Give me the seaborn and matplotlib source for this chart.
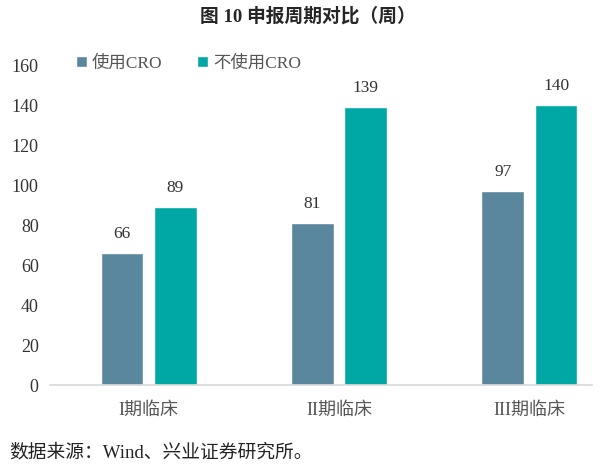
"""Bar chart: submission cycle with / without CRO (weeks)."""

import matplotlib

matplotlib.use("Agg")
import matplotlib.pyplot as plt
import pandas as pd
import seaborn as sns

PHASES = ["I期临床", "II期临床", "III期临床"]
SERIES = ["使用CRO", "不使用CRO"]
WITH_CRO = [66, 81, 97]
WITHOUT_CRO = [89, 139, 140]
Y_TICKS = [0, 20, 40, 60, 80, 100, 120, 140, 160]

TITLE = "图 10 申报周期对比（周）"
SOURCE = "数据来源：Wind、兴业证券研究所。"

PALETTE = {"使用CRO": "#5B879E", "不使用CRO": "#00A8A5"}

sns.set_theme(style="white")
plt.rcParams["font.family"] = ["Liberation Serif", "Noto Sans CJK SC", "DejaVu Sans"]
plt.rcParams["axes.unicode_minus"] = False

df = pd.DataFrame(
    {
        "phase": PHASES * 2,
        "series": [SERIES[0]] * 3 + [SERIES[1]] * 3,
        "weeks": WITH_CRO + WITHOUT_CRO,
    }
)

fig = plt.figure(figsize=(6.15, 4.68), dpi=100)
ax = fig.add_axes([0.081, 0.177, 0.882, 0.684])

sns.barplot(
    data=df,
    x="phase",
    y="weeks",
    hue="series",
    hue_order=SERIES,
    order=PHASES,
    palette=PALETTE,
    width=0.56,
    gap=0.2,
    errorbar=None,
    saturation=1,
    ax=ax,
)

for container in ax.containers:
    ax.bar_label(container, fmt="%d", padding=8, fontsize=12.5, color="#333333")

ax.set_ylim(0, 160)
ax.set_xlim(-0.52, 2.33)
ax.set_yticks(Y_TICKS)
ax.set_xlabel("")
ax.set_ylabel("")
for side in ["left", "right", "top"]:
    ax.spines[side].set_visible(False)
ax.spines["bottom"].set_color("#D9D9D9")
ax.spines["bottom"].set_linewidth(1.2)
ax.tick_params(axis="y", length=0, pad=8, labelsize=13, labelcolor="#333333")
ax.tick_params(axis="x", length=0, pad=12, labelsize=13, labelcolor="#555555")

ax.legend(
    loc="upper left",
    bbox_to_anchor=(0.02, 1.08),
    ncol=2,
    frameon=False,
    fontsize=12.5,
    handlelength=0.6,
    handleheight=0.6,
    handletextpad=0.3,
    columnspacing=2.0,
    labelcolor="#555555",
)

fig.text(0.5, 0.965, TITLE, ha="center", va="center", fontsize=13.5, fontweight="bold")
fig.text(0.015, 0.034, SOURCE, ha="left", va="center", fontsize=13.5, color="#222222")

fig.savefig("out.png", dpi=100)
plt.close(fig)
